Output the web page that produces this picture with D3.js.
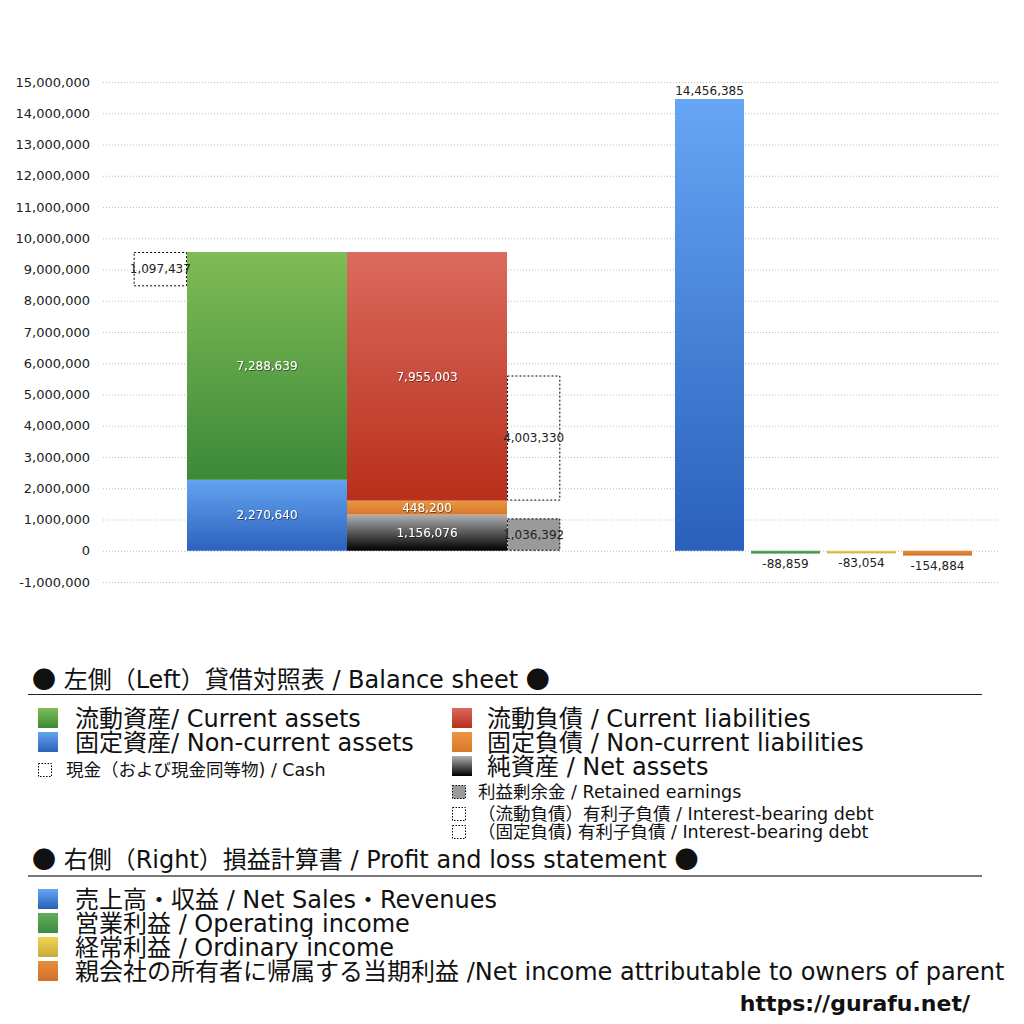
<!DOCTYPE html>
<html>
<head>
<meta charset="utf-8">
<script src="https://cdn.jsdelivr.net/npm/d3@7"></script>
<style>
  body { margin: 0; background: #fff; }
  text { font-family: "DejaVu Sans", "Noto Sans CJK JP", sans-serif; }
  .cjk { font-family: "Noto Sans CJK JP", sans-serif; }
</style>
</head>
<body>
<div id="chart"></div>
<script>
// balance sheet (left)
const assetKeys = ['nonCurrentAssets', 'currentAssets'];
const assetValues = [2270640, 7288639];
const liabKeys = ['netAssets', 'nonCurrentLiabilities', 'currentLiabilities'];
const liabValues = [1156076, 448200, 7955003];
const cashValue = 1097437;
const retainedValue = 1036392;
const debtCurrentValue = 4003330;

// profit and loss (right)
const plKeys = ['revenue', 'operating', 'ordinary', 'netIncome'];
const plValues = [14456385, -88859, -83054, -154884];

const yTicks = [-1000000, 0, 1000000, 2000000, 3000000, 4000000, 5000000, 6000000, 7000000,
  8000000, 9000000, 10000000, 11000000, 12000000, 13000000, 14000000, 15000000];

const headerBs = ' 左側（Left）貸借対照表 / Balance sheet ';
const headerPl = ' 右側（Right）損益計算書 / Profit and loss statement ';
const legendBsLeft = ['流動資産/ Current assets', '固定資産/ Non-current assets'];
const legendBsRight = ['流動負債 /  Current liabilities', '固定負債 / Non-current liabilities', '純資産 / Net assets'];
const legendBsSmallLeft = ['現金（および現金同等物) / Cash'];
const legendBsSmallRight = ['利益剰余金 / Retained earnings', '（流動負債）有利子負債 / Interest-bearing debt', '（固定負債) 有利子負債 / Interest-bearing debt'];
const legendPl = ['売上高・収益 / Net Sales・Revenues', '営業利益 / Operating income', '経常利益 / Ordinary income', '親会社の所有者に帰属する当期利益 /Net income attributable to owners of parent'];

const fmt = d3.formatLocale({decimal: '.', thousands: ',', grouping: [3], currency: ['', ''], minus: '-'}).format(',');

const width = 1024, height = 1024;
const svg = d3.select('#chart').append('svg')
    .attr('width', width)
    .attr('height', height);

// gradients
const defs = svg.append('defs');
const grads = {
    currentAssets: ['#80bc56', '#3c8938'],
    nonCurrentAssets: ['#64a3f0', '#2c62be'],
    currentLiabilities: ['#db6a5e', '#b82f1a'],
    nonCurrentLiabilities: ['#eb9740', '#d8772c'],
    netAssets: ['#b0b0b0', '#000000'],
    revenue: ['#66a6f4', '#2a60bb'],
    operating: ['#62ad58', '#3d8a3a'],
    ordinary: ['#f0d64e', '#c9a840'],
    netIncome: ['#e68d3a', '#d26f2c']
};
Object.entries(grads).forEach(([k, c]) => {
    const g = defs.append('linearGradient').attr('id', 'g-' + k)
        .attr('x1', 0).attr('y1', 0).attr('x2', 0).attr('y2', 1);
    g.append('stop').attr('offset', '0%').attr('stop-color', c[0]);
    g.append('stop').attr('offset', '100%').attr('stop-color', c[1]);
});
const shadow = defs.append('filter').attr('id', 'shadow')
    .attr('x', '-20%').attr('y', '-40%').attr('width', '140%').attr('height', '180%');
shadow.append('feDropShadow').attr('dx', 0.6).attr('dy', 0.8).attr('stdDeviation', 0.5)
    .attr('flood-color', '#000').attr('flood-opacity', 0.6);

// scales
const y = d3.scaleLinear().domain([-1000000, 15000000]).range([582, 82]);
const xL = d3.scaleBand().domain(['assets', 'liabilities']).range([187, 507]).padding(0);
const sideW = xL.bandwidth() / 3;
const xR = d3.scaleBand().domain(plKeys).range([671.5, 975.5]).paddingInner(0.092).paddingOuter(0.046);

// grid + y labels
const grid = svg.append('g');
grid.selectAll('line').data(yTicks).join('line')
    .attr('x1', 103).attr('x2', 998)
    .attr('y1', d => y(d) + 0.5).attr('y2', d => y(d) + 0.5)
    .attr('stroke', '#bdbdbd').attr('stroke-width', 1).attr('stroke-dasharray', '1,2');

const yaxis = d3.axisLeft(y).tickValues(yTicks).tickFormat(fmt).tickSize(0).tickPadding(0);
svg.append('g')
    .attr('transform', 'translate(90,0)')
    .call(yaxis)
    .call(g => g.select('.domain').remove())
    .selectAll('text')
    .style('font-family', '"DejaVu Sans", sans-serif')
    .style('font-size', '13px')
    .attr('fill', '#222');

// stacked columns
function stackOf(keys, values) {
    let acc = 0;
    return keys.map((k, i) => {
        const d = {key: k, value: values[i], y0: acc, y1: acc + values[i]};
        acc += values[i];
        return d;
    });
}
const assetStack = stackOf(assetKeys, assetValues);
const liabStack = stackOf(liabKeys, liabValues);
const totalAssets = d3.sum(assetValues);

function drawColumn(col, stack) {
    const g = svg.append('g');
    g.selectAll('rect').data(stack).join('rect')
        .attr('x', xL(col))
        .attr('width', xL.bandwidth())
        .attr('y', d => y(d.y1))
        .attr('height', d => y(d.y0) - y(d.y1))
        .attr('fill', d => 'url(#g-' + d.key + ')');
    g.selectAll('text').data(stack).join('text')
        .attr('x', xL(col) + xL.bandwidth() / 2)
        .attr('y', d => y((d.y0 + d.y1) / 2))
        .attr('dy', '0.35em')
        .attr('text-anchor', 'middle')
        .attr('fill', '#fff')
        .attr('filter', 'url(#shadow)')
        .style('font-size', '12px')
        .text(d => fmt(d.value));
}
drawColumn('assets', assetStack);
drawColumn('liabilities', liabStack);

// dotted side boxes
const currentLiabBase = liabStack.find(d => d.key === 'currentLiabilities').y0;
const sideBoxes = [
    {x: xL('assets') - sideW, y0: totalAssets - cashValue, y1: totalAssets, value: cashValue, fill: 'none'},
    {x: xL('liabilities') + xL.bandwidth(), y0: currentLiabBase, y1: currentLiabBase + debtCurrentValue, value: debtCurrentValue, fill: 'none'},
    {x: xL('liabilities') + xL.bandwidth(), y0: 0, y1: retainedValue, value: retainedValue, fill: '#9a9a9a'}
];
const sb = svg.append('g');
sb.selectAll('rect').data(sideBoxes).join('rect')
    .attr('x', d => d.x + 0.5)
    .attr('width', sideW - 1)
    .attr('y', d => y(d.y1) + 0.5)
    .attr('height', d => y(d.y0) - y(d.y1) - 1)
    .attr('fill', d => d.fill)
    .attr('stroke', '#000').attr('stroke-width', 1).attr('stroke-dasharray', '2,2');
sb.selectAll('text').data(sideBoxes).join('text')
    .attr('x', d => d.x + sideW / 2)
    .attr('y', d => y((d.y0 + d.y1) / 2))
    .attr('dy', '0.35em')
    .attr('text-anchor', 'middle')
    .attr('fill', '#222')
    .style('font-size', '12px')
    .text(d => fmt(d.value));

// profit and loss bars
const pl = plKeys.map((k, i) => ({key: k, value: plValues[i]}));
const pg = svg.append('g');
pg.selectAll('rect').data(pl).join('rect')
    .attr('x', d => xR(d.key))
    .attr('width', xR.bandwidth())
    .attr('y', d => y(Math.max(0, d.value)))
    .attr('height', d => Math.abs(y(d.value) - y(0)))
    .attr('fill', d => 'url(#g-' + d.key + ')');
pg.selectAll('text').data(pl).join('text')
    .attr('x', d => xR(d.key) + xR.bandwidth() / 2)
    .attr('y', d => d.value >= 0 ? y(d.value) - 4 : y(d.value) + 14)
    .attr('text-anchor', 'middle')
    .attr('fill', '#222')
    .style('font-size', '12px')
    .text(d => fmt(d.value));

// legend
const lg = svg.append('g');
function header(text, yb, lineY, stroke, sw) {
    const t = lg.append('text').attr('x', 32).attr('y', yb).style('font-size', '24px').attr('fill', '#111');
    t.append('tspan').attr('class', 'cjk').text('●');
    t.append('tspan').text(text);
    t.append('tspan').attr('class', 'cjk').text('●');
    lg.append('line').attr('x1', 28).attr('x2', 982).attr('y1', lineY).attr('y2', lineY)
        .attr('stroke', stroke).attr('stroke-width', sw);
}
function bigItems(labels, keys, x, tx, yc0) {
    labels.forEach((t, i) => {
        const yc = yc0 + i * 24;
        lg.append('rect').attr('x', x).attr('y', yc - 10).attr('width', 20).attr('height', 20)
            .attr('fill', 'url(#g-' + keys[i] + ')');
        lg.append('text').attr('x', tx).attr('y', yc).attr('dy', '0.36em')
            .style('font-size', '24px').attr('fill', '#111').text(t);
    });
}
function smallItems(labels, fills, x, tx, ycs) {
    labels.forEach((t, i) => {
        lg.append('rect').attr('x', x + 0.5).attr('y', ycs[i] - 7 + 0.5).attr('width', 13).attr('height', 13)
            .attr('fill', fills[i]).attr('stroke', '#000').attr('stroke-dasharray', '1.5,1.5');
        lg.append('text').attr('x', tx).attr('y', ycs[i]).attr('dy', '0.36em')
            .style('font-size', '17.5px').attr('fill', '#111').text(t);
    });
}
header(headerBs, 688, 694.5, '#222', 1);
bigItems(legendBsLeft, ['currentAssets', 'nonCurrentAssets'], 38, 75, 718);
bigItems(legendBsRight, ['currentLiabilities', 'nonCurrentLiabilities', 'netAssets'], 452, 487, 718);
smallItems(legendBsSmallLeft, ['none'], 38, 66, [770]);
smallItems(legendBsSmallRight, ['#9a9a9a', 'none', 'none'], 452, 478, [792, 814, 832]);

header(headerPl, 868, 876, '#777', 2);
bigItems(legendPl, plKeys, 38, 75, 899);

svg.append('text').attr('x', 970).attr('y', 1011)
    .attr('text-anchor', 'end')
    .style('font-family', '"DejaVu Sans", sans-serif')
    .style('font-size', '22px').style('font-weight', 'bold')
    .attr('fill', '#111')
    .text('https://gurafu.net/');
</script>
</body>
</html>
